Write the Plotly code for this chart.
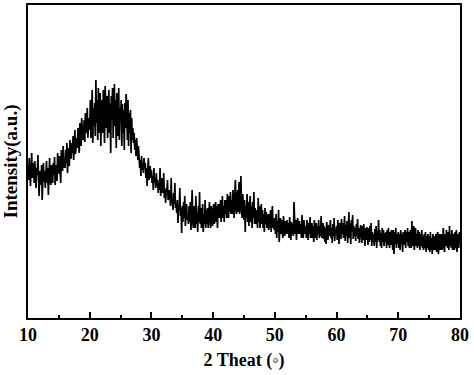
import plotly.graph_objects as go

# XRD pattern, 2θ from 10.0° to 80.0° every 0.1°
theta_start = 10.0
theta_step = 0.1
intensity = [
    152,138,160,145,132,150,165,140,147,155,
    135,157,145,130,150,143,163,137,122,147,
    145,133,153,118,141,155,136,147,130,144,
    157,135,150,123,145,160,139,133,153,142,
    135,155,143,161,133,147,153,137,165,145,
    145,162,150,135,168,155,147,172,150,158,
    150,168,155,175,145,162,170,152,178,160,
    160,175,165,182,158,170,188,164,172,180,
    170,190,175,165,195,180,172,200,185,178,
    182,198,176,205,190,185,210,180,195,200,
    188,218,180,205,228,175,210,192,215,182,
    238,195,218,178,230,200,185,225,172,212,
    218,185,228,200,175,232,205,190,222,180,
    210,228,185,215,165,222,198,230,180,212,
    234,192,218,170,225,200,182,230,178,210,
    198,218,172,214,185,208,168,215,190,224,
    212,178,218,172,205,185,208,165,200,178,
    190,175,185,168,178,162,180,170,158,172,
    165,150,158,142,162,148,155,145,160,150,
    155,140,150,132,148,160,138,145,152,140,
    148,135,142,128,150,136,140,130,145,132,
    138,125,135,128,150,122,132,140,125,130,
    145,120,128,115,130,125,138,118,122,128,
    120,112,140,115,118,108,125,114,135,110,
    115,105,118,95,112,108,130,102,110,85,
    112,96,116,100,122,92,108,114,98,104,
    94,112,96,116,88,108,128,96,90,112,
    108,90,122,94,106,86,112,96,126,94,
    110,90,106,114,86,104,94,118,90,108,
    94,110,90,106,116,96,90,112,104,92,
    108,114,94,110,116,96,112,90,114,100,
    114,100,118,96,116,122,100,112,96,118,
    104,118,100,124,108,100,122,106,126,104,
    118,104,128,106,100,122,138,108,104,124,
    128,106,136,104,120,142,108,100,124,112,
    98,118,86,112,100,124,96,116,92,110,
    122,96,112,90,116,100,126,94,110,96,
    94,108,90,120,96,112,90,106,114,94,
    108,90,104,86,110,94,106,90,104,92,
    88,104,90,108,86,100,112,90,100,88,
    100,84,104,80,97,86,108,76,94,100,
    84,98,88,80,102,92,82,97,88,84,
    98,84,95,80,101,88,78,96,84,94,
    82,116,94,84,98,78,92,100,84,94,
    97,84,94,80,103,88,80,98,90,84,
    92,80,98,86,78,95,84,101,80,92,
    95,80,92,76,98,86,80,95,78,92,
    84,98,80,92,82,102,80,88,95,79,
    92,76,90,74,96,84,78,93,82,90,
    98,80,90,75,94,82,100,77,88,86,
    92,78,98,84,74,95,86,79,99,84,
    95,80,90,102,77,93,82,97,75,90,
    106,80,95,74,98,86,103,79,92,82,
    90,77,94,82,99,79,90,75,88,93,
    88,75,92,78,94,80,72,90,78,91,
    86,73,90,76,92,78,95,72,86,76,
    84,72,89,76,92,70,87,78,98,76,
    88,72,85,70,90,76,88,72,85,76,
    86,70,88,73,90,76,70,86,73,88,
    83,68,88,64,86,74,90,70,84,74,
    86,70,84,68,88,74,84,66,86,74,
    74,88,70,86,76,90,72,86,70,84,
    88,70,97,76,72,92,68,86,90,72,
    84,70,88,72,86,68,84,72,88,70,
    82,68,84,70,86,66,82,70,84,68,
    82,66,86,68,80,64,84,70,68,82,
    68,84,66,82,86,64,72,84,68,82,
    84,68,82,90,70,66,84,72,88,70,
    70,86,68,92,72,84,70,88,68,84,
    82,68,86,70,88,66,82,84,70,86,
    76,
]

x_ticks = [10, 20, 30, 40, 50, 60, 70, 80]
x_tick_labels = ["<b>%d</b>" % v for v in x_ticks]
x_title = "<b>2 Theat (◦)</b>"
y_title = "<b>Intensity(a.u.)</b>"

font_family = "Liberation Serif, Times New Roman, serif"

fig = go.Figure()
fig.add_trace(go.Scatter(
    x0=theta_start, dx=theta_step, y=intensity,
    mode="lines", line=dict(color="black", width=1.7),
    showlegend=False, hoverinfo="skip",
))

fig.update_layout(
    width=474, height=375,
    margin=dict(l=28, r=14, t=5, b=57),
    paper_bgcolor="white", plot_bgcolor="white",
    font=dict(family=font_family, color="black", size=18),
)
fig.update_xaxes(
    range=[10, 80], tickvals=x_ticks, ticktext=x_tick_labels,
    ticks="inside", ticklen=6, tickwidth=1.5, tickcolor="black",
    minor=dict(ticks="inside", ticklen=3, tickwidth=1.5, tickcolor="black", dtick=5, tick0=10),
    showline=True, linecolor="black", linewidth=1.5, mirror=True,
    showgrid=False, zeroline=False,
    tickfont=dict(family=font_family, size=18),
    title=dict(text=x_title, font=dict(family=font_family, size=18), standoff=9),
    automargin=False,
)
fig.update_yaxes(
    range=[0, 313], showticklabels=False, ticks="",
    showline=True, linecolor="black", linewidth=1.5, mirror=True,
    showgrid=False, zeroline=False,
    title=dict(text=y_title, font=dict(family=font_family, size=19), standoff=4),
    automargin=False,
)

fig.write_html("out.html", config={"displayModeBar": False},
               post_script="document.body.style.margin='0';")
